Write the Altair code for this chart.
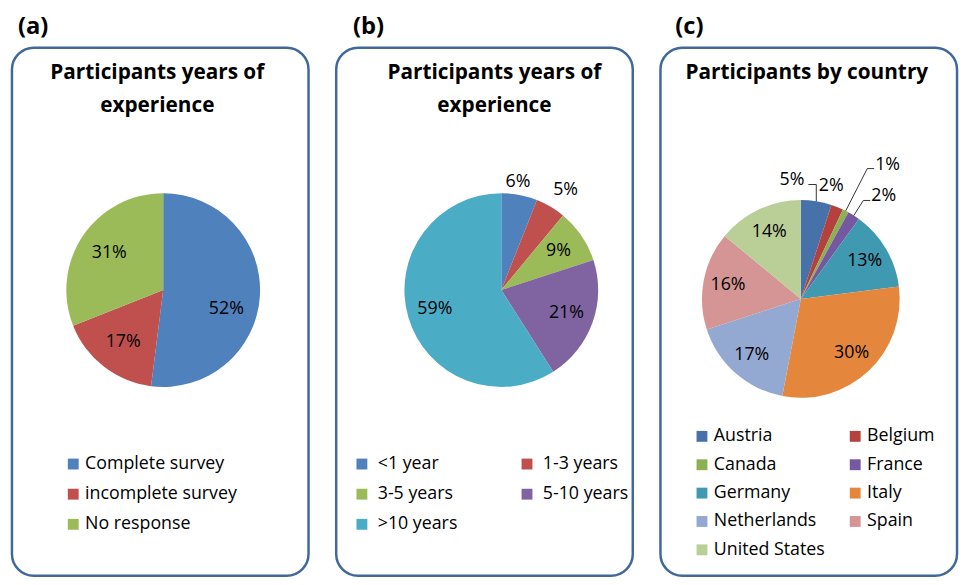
import altair as alt
import pandas as pd

FONT = "Open Sans"
BORDER = "#41689A"

PANEL_LETTERS = ["(a)", "(b)", "(c)"]

A_TITLE = ["Participants years of", "experience"]
A_CATS = ["Complete survey", "incomplete survey", "No response"]
A_VALS = [52, 17, 31]
A_COLORS = ["#4F81BD", "#C0504D", "#9BBB59"]

B_TITLE = ["Participants years of", "experience"]
B_CATS = ["<1 year", "1-3 years", "3-5 years", "5-10 years", ">10 years"]
B_VALS = [6, 5, 9, 21, 59]
B_COLORS = ["#4F81BD", "#C0504D", "#9BBB59", "#8064A2", "#4BACC6"]

C_TITLE = ["Participants by country"]
C_CATS = ["Austria", "Belgium", "Canada", "France", "Germany", "Italy",
          "Netherlands", "Spain", "United States"]
C_VALS = [5, 2, 1, 2, 13, 30, 17, 16, 14]
C_COLORS = ["#4672A9", "#B5413F", "#8DB152", "#7459A0", "#3F99B1",
            "#E4873D", "#93A9D2", "#D69595", "#BACF97"]

W, H = 300, 534


def px(cx, R):
    return f"{cx} + {R}*sin(datum.mid)"


def py(cy, R):
    return f"{cy} - {R}*cos(datum.mid)"


def panel(letter, letter_dx, cats, vals, colors, title_lines, title_x,
          cx, cy, r, r_in, specials, leg):
    df = pd.DataFrame({"cat": cats, "val": vals, "idx": list(range(len(cats)))})

    color = alt.Color(
        "cat:N",
        scale=alt.Scale(domain=cats, range=colors),
        sort=cats,
        legend=alt.Legend(
            orient="none", title=None, symbolType="square", symbolSize=121,
            symbolStrokeWidth=0, symbolOpacity=1, labelFont=FONT,
            labelFontSize=18, labelColor="black", labelLimit=300,
            direction="horizontal", **leg),
    )

    arcs = alt.Chart(df).mark_arc(outerRadius=r).encode(
        theta=alt.Theta("val:Q", stack=True),
        color=color,
        order=alt.Order("idx:Q", sort="ascending"),
        x=alt.value(cx), y=alt.value(cy),
    )

    title = alt.Chart(pd.DataFrame({"k": [0]})).mark_text(
        text=title_lines, font=FONT, fontSize=21, fontWeight="bold",
        lineHeight=33, baseline="top", align="center", color="black",
    ).encode(x=alt.value(title_x), y=alt.value(15))

    base = alt.Chart(df).transform_window(
        cum="sum(val)", sort=[alt.SortField("idx", order="ascending")]
    ).transform_joinaggregate(total="sum(val)").transform_calculate(
        mid="2*PI*(datum.cum - datum.val/2)/datum.total",
        label="datum.val + '%'",
    )

    special_names = [s["cat"] for s in specials]
    cond = " && ".join([f"datum.cat != '{n}'" for n in special_names]) or "true"

    layers = [title, arcs]
    normal = base.transform_filter(cond).transform_calculate(
        lx=px(cx, r_in), ly=py(cy, r_in)
    ).mark_text(font=FONT, fontSize=18, color="black", baseline="middle",
                align="center").encode(
        x=alt.X("lx:Q", scale=None, axis=None),
        y=alt.Y("ly:Q", scale=None, axis=None),
        text="label:N",
    )
    layers.append(normal)

    for s in specials:
        sub = base.transform_filter(f"datum.cat == '{s['cat']}'")
        kind = s["kind"]
        if kind == "plain":
            lx = f"{px(cx, s['R'])} + {s['dx']}"
            ly = f"{py(cy, s['R'])} + {s['dy']}"
            align = "center"
        elif kind == "tick":
            R, t = s["R"], s["t"]
            radial = sub.transform_calculate(
                x1=px(cx, r), y1=py(cy, r), x2=px(cx, R), y2=py(cy, R)
            ).mark_rule(color="black", strokeWidth=0.8).encode(
                x=alt.X("x1:Q", scale=None, axis=None),
                y=alt.Y("y1:Q", scale=None, axis=None),
                x2="x2:Q", y2="y2:Q")
            tick = sub.transform_calculate(
                x1=px(cx, R), y1=py(cy, R), x2=f"{px(cx, R)} + {t}"
            ).mark_rule(color="black", strokeWidth=0.8).encode(
                x=alt.X("x1:Q", scale=None, axis=None),
                y=alt.Y("y1:Q", scale=None, axis=None),
                x2="x2:Q")
            layers += [radial, tick]
            lx = f"{px(cx, R)} + {t} + 1"
            ly = f"{py(cy, R)} - 4"
            align = "left"
        else:  # elbow
            h, w = s["h"], s["w"]
            vert = sub.transform_calculate(
                x1=px(cx, r), y1=py(cy, r), y2=f"{py(cy, r)} - {h}"
            ).mark_rule(color="black", strokeWidth=0.8).encode(
                x=alt.X("x1:Q", scale=None, axis=None),
                y=alt.Y("y1:Q", scale=None, axis=None),
                y2="y2:Q")
            hor = sub.transform_calculate(
                x1=f"{px(cx, r)} - {w}", x2=px(cx, r), y1=f"{py(cy, r)} - {h}"
            ).mark_rule(color="black", strokeWidth=0.8).encode(
                x=alt.X("x1:Q", scale=None, axis=None),
                y=alt.Y("y1:Q", scale=None, axis=None),
                x2="x2:Q")
            layers += [vert, hor]
            lx = f"{px(cx, r)} - {w} - 4"
            ly = f"{py(cy, r)} - {h} - 5"
            align = "right"
        lab = sub.transform_calculate(lx=lx, ly=ly).mark_text(
            font=FONT, fontSize=18, color="black", baseline="middle", align=align
        ).encode(
            x=alt.X("lx:Q", scale=None, axis=None),
            y=alt.Y("ly:Q", scale=None, axis=None),
            text="label:N",
        )
        layers.append(lab)

    return alt.layer(*layers).properties(
        width=W, height=H,
        title=alt.TitleParams(letter, anchor="start", font=FONT, fontSize=24,
                              fontWeight="bold", color="black", offset=9,
                              dx=letter_dx),
    )


pa = panel(PANEL_LETTERS[0], 6, A_CATS, A_VALS, A_COLORS, A_TITLE, 147,
           153, 245, 98, 66,
           [{"cat": "Complete survey", "kind": "plain", "R": 66, "dx": -2, "dy": 15}],
           dict(legendX=53, legendY=412, columns=1, rowPadding=12.5, labelOffset=3))

pb = panel(PANEL_LETTERS[1], 17, B_CATS, B_VALS, B_COLORS, B_TITLE, 160,
           167, 245, 98, 70,
           [{"cat": "<1 year", "kind": "plain", "R": 111, "dx": -4, "dy": 0},
            {"cat": "1-3 years", "kind": "plain", "R": 120, "dx": 4, "dy": 2}],
           dict(legendX=17, legendY=412, columns=2, rowPadding=12.5,
                labelOffset=7, columnPadding=61))

pc = panel(PANEL_LETTERS[2], 15, C_CATS, C_VALS, C_COLORS, C_TITLE, 148,
           142, 254, 100, 75,
           [{"cat": "Austria", "kind": "elbow", "h": 17, "w": 8},
            {"cat": "Belgium", "kind": "plain", "R": 119, "dx": -13, "dy": -4},
            {"cat": "Canada", "kind": "tick", "R": 148, "t": 7},
            {"cat": "France", "kind": "tick", "R": 118, "t": 7}],
           dict(legendX=33, legendY=384, columns=2, rowPadding=10.7,
                labelOffset=3, columnPadding=21))

chart = alt.hconcat(pa, pb, pc, spacing=24).resolve_scale(
    color="independent", theta="independent"
).properties(
    padding={"left": 2, "top": 2, "right": 0, "bottom": 0}
).configure_view(
    stroke=BORDER, strokeWidth=2.5, cornerRadius=22
)

chart.save("out.html", embed_options={"renderer": "svg", "actions": False})
